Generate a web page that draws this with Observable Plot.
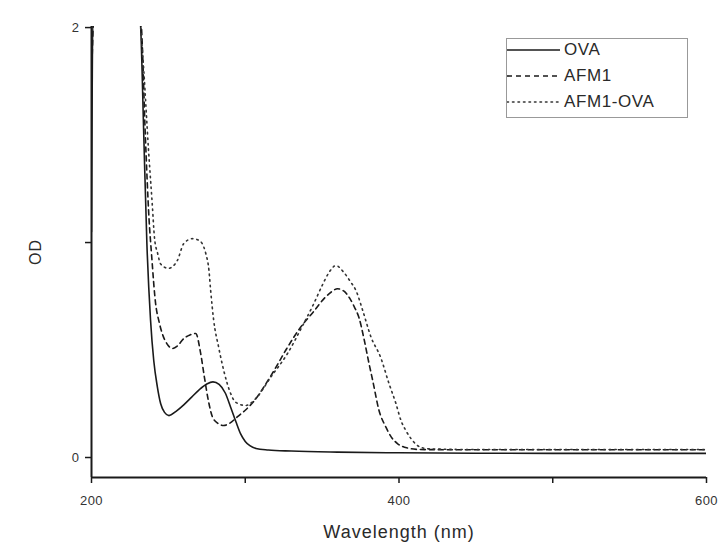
<!DOCTYPE html>
<html>
<head>
<meta charset="utf-8">
<script src="https://cdn.jsdelivr.net/npm/d3@7"></script>
<script src="https://cdn.jsdelivr.net/npm/@observablehq/plot@0.6"></script>
<style>
  body { margin: 0; background: #fff; }
  #wrap { position: relative; width: 722px; height: 544px; font-family: "Liberation Sans", Arial, sans-serif; }
  #legend { position: absolute; left: 506px; top: 38px; width: 182px; height: 80px; border: 1px solid #999; box-sizing: border-box; background: #fff; }
  #legend .row { position: absolute; left: 0; height: 20px; display: flex; align-items: center; font-size: 17px; letter-spacing: 0.6px; color: #2a2a2a; }
  #legend svg { margin-right: 3px; }
</style>
</head>
<body>
<div id="wrap"></div>
<script>
// Series names
const seriesNames = ["OVA", "AFM1", "AFM1-OVA"];

// OVA (solid)
const ovaWl  = [200, 201, 231, 232, 234, 236, 238.4, 240.5, 242.8, 245, 247.5, 250.4, 255, 260, 265, 270, 275, 279, 283, 287, 290.5, 294, 297, 300, 303, 307, 315, 330, 360, 400, 450, 500, 600];
const ovaOD  = [1.05, 2.1, 2.1, 2.0, 1.5, 1.0, 0.64, 0.45, 0.33, 0.25, 0.21, 0.195, 0.215, 0.245, 0.28, 0.315, 0.342, 0.352, 0.34, 0.3, 0.234, 0.165, 0.11, 0.075, 0.055, 0.042, 0.035, 0.03, 0.025, 0.022, 0.02, 0.019, 0.019];

// AFM1 (dashed)
const afmWl  = [200, 202, 231, 232.5, 235, 237.5, 239, 241.7, 244, 246, 249, 252.6, 256, 260, 264, 267.8, 271, 273.5, 276, 278.6, 282, 286, 290, 295, 300, 306, 312, 320, 327.5, 336, 344.6, 352, 356, 360, 364, 368, 371, 374, 377, 380.5, 382.9, 387, 391.5, 395, 399, 405, 414, 450, 500, 550, 600];
const afmOD  = [1.75, 2.1, 2.1, 2.0, 1.5, 1.1, 0.95, 0.716, 0.63, 0.577, 0.53, 0.507, 0.52, 0.553, 0.57, 0.577, 0.484, 0.37, 0.265, 0.19, 0.16, 0.149, 0.16, 0.19, 0.22, 0.265, 0.327, 0.42, 0.513, 0.606, 0.68, 0.745, 0.77, 0.785, 0.775, 0.74, 0.70, 0.65, 0.56, 0.437, 0.358, 0.219, 0.141, 0.095, 0.065, 0.045, 0.037, 0.036, 0.036, 0.036, 0.036];

// AFM1-OVA (dotted)
const mixWl  = [231, 232, 234, 237, 239.5, 241, 243, 245, 250, 255.8, 260, 265.6, 270, 272, 274.3, 276.4, 277.5, 279.5, 282.7, 286, 290.5, 293.8, 300.3, 306.8, 316.6, 327.5, 338, 344.6, 350, 354.4, 359, 364, 368.7, 372, 376.4, 381.8, 388, 393.5, 398, 401.3, 404.5, 407.8, 414, 420, 450, 500, 600];
const mixOD  = [2.1, 2.0, 1.8, 1.44, 1.18, 1.02, 0.95, 0.9, 0.88, 0.916, 0.995, 1.018, 1.01, 0.995, 0.95, 0.87, 0.777, 0.637, 0.513, 0.405, 0.298, 0.257, 0.242, 0.274, 0.374, 0.484, 0.623, 0.716, 0.8, 0.86, 0.893, 0.862, 0.815, 0.777, 0.684, 0.56, 0.467, 0.344, 0.251, 0.172, 0.125, 0.088, 0.048, 0.04, 0.037, 0.037, 0.037];

// Axis ticks (labelled / unlabelled)
const xTicks = [200, 300, 400, 500, 600];
const xTickLabels = ["200", "", "400", "", "600"];
const yTicks = [0, 1, 2];
const yTickLabels = ["0", "", "2"];

const xDomain = [200, 600];
const yDomain = [-0.093, 2.005];

const toRows = (wl, od) => wl.map((w, i) => ({w, od: od[i]}));
const ova = toRows(ovaWl, ovaOD);
const afm = toRows(afmWl, afmOD);
const mix = toRows(mixWl, mixOD);

const ink = "#1a1a1a";

const chart = Plot.plot({
  width: 722,
  height: 544,
  marginLeft: 91,
  marginRight: 16,
  marginTop: 26,
  marginBottom: 67,
  style: {fontFamily: "Liberation Sans, Arial, sans-serif", fontSize: "13px", color: ink, background: "white"},
  x: {
    domain: xDomain,
    ticks: xTicks,
    tickFormat: d => xTickLabels[xTicks.indexOf(d)],
    tickSize: 6,
    tickPadding: 12,
    label: "Wavelength (nm)",
    labelAnchor: "center",
    labelArrow: "none",
    labelOffset: 60
  },
  y: {
    domain: yDomain,
    ticks: yTicks,
    tickFormat: d => yTickLabels[yTicks.indexOf(d)],
    tickSize: 6,
    tickPadding: 6,
    label: "OD",
    labelAnchor: "center",
    labelArrow: "none",
    labelOffset: 62
  },
  marks: [
    Plot.lineY(ova, {x: "w", y: "od", stroke: ink, strokeWidth: 1.6, curve: "monotone-x", clip: true}),
    Plot.lineY(afm, {x: "w", y: "od", stroke: ink, strokeWidth: 1.6, strokeDasharray: "5,4", curve: "monotone-x", clip: true}),
    Plot.lineY(mix, {x: "w", y: "od", stroke: "#333", strokeWidth: 1.6, strokeDasharray: "1.5,4", strokeLinecap: "round", curve: "monotone-x", clip: true}),
    Plot.ruleX([xDomain[0]], {stroke: ink, strokeWidth: 2}),
    Plot.ruleY([yDomain[0]], {stroke: ink, strokeWidth: 2})
  ]
});

// axis styling: thicker ticks, larger text
chart.querySelectorAll("g[aria-label='x-axis tick'] path, g[aria-label='y-axis tick'] path").forEach(p => {
  p.setAttribute("stroke-width", "1.5");
});
chart.querySelectorAll("g[aria-label='x-axis tick label'], g[aria-label='y-axis tick label']").forEach(g => {
  g.setAttribute("font-size", "13");
  g.style.fontSize = "13px";
  g.querySelectorAll("text").forEach(t => { t.style.fontSize = "13px"; t.style.letterSpacing = "0.5px"; t.style.fill = "#333"; });
});
chart.querySelectorAll("g[aria-label='x-axis label'] text").forEach(t => {
  t.style.fontSize = "18px";
  t.style.letterSpacing = "1px";
  t.style.fill = "#2a2a2a";
});
chart.querySelectorAll("g[aria-label='y-axis label'] text").forEach(t => {
  t.style.fontSize = "16px";
  t.style.letterSpacing = "1px";
  t.style.fill = "#2a2a2a";
});

const wrap = document.getElementById("wrap");
wrap.appendChild(chart);

// Legend
const legend = document.createElement("div");
legend.id = "legend";
const dashes = [null, "5,4", "1.5,4"];
seriesNames.forEach((name, i) => {
  const row = document.createElement("div");
  row.className = "row";
  row.style.top = (1 + i * 26) + "px";
  const dash = dashes[i] ? `stroke-dasharray="${dashes[i]}"` : "";
  row.innerHTML = `<svg width="54" height="10"><line x1="0" y1="5" x2="53" y2="5" stroke="${i === 2 ? '#333' : ink}" stroke-width="1.6" stroke-linecap="${i === 2 ? 'round' : 'butt'}" ${dash}/></svg><span>${name}</span>`;
  legend.appendChild(row);
});
wrap.appendChild(legend);
</script>
</body>
</html>
